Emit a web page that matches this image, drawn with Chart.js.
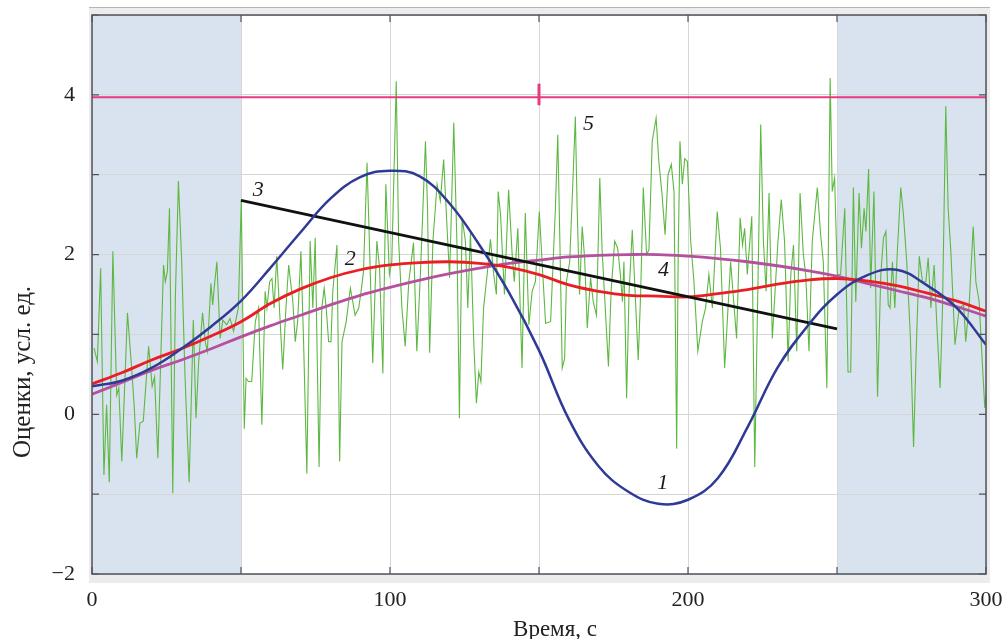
<!DOCTYPE html>
<html>
<head>
<meta charset="utf-8">
<script src="https://cdn.jsdelivr.net/npm/chart.js@4"></script>
<style>
  body { margin: 0; background: #fff; }
  #wrap { width: 1003px; height: 639px; position: relative; }
</style>
</head>
<body>
<div id="wrap"><canvas id="chart"></canvas></div>
<script>
// shaded time intervals, c
const shadeRanges = [[0, 50], [250, 300]];

// smooth curves 1, 2, 4 sampled every 10 s
const curveT = [0, 10, 20, 30, 40, 50, 60, 70, 80, 90, 100, 110, 120, 130, 140, 150,
  160, 170, 180, 190, 200, 210, 220, 230, 240, 250, 260, 270, 280, 290, 300];
const curve1 = [0.35, 0.42, 0.58, 0.82, 1.10, 1.42, 1.84, 2.28, 2.70, 2.97, 3.05, 2.98, 2.64, 2.12, 1.52, 0.80,
  -0.06, -0.65, -0.97, -1.12, -1.07, -0.80, -0.16, 0.58, 1.10, 1.50, 1.74, 1.81, 1.62, 1.34, 0.87];
const curve2 = [0.38, 0.52, 0.68, 0.82, 0.98, 1.16, 1.39, 1.57, 1.71, 1.81, 1.87, 1.90, 1.91, 1.89, 1.84, 1.75,
  1.62, 1.54, 1.49, 1.48, 1.47, 1.51, 1.56, 1.63, 1.68, 1.70, 1.67, 1.61, 1.52, 1.42, 1.29];
const curve4 = [0.25, 0.40, 0.55, 0.68, 0.82, 0.97, 1.11, 1.24, 1.37, 1.49, 1.59, 1.68, 1.76, 1.83, 1.89, 1.93,
  1.97, 1.99, 2.00, 2.00, 1.98, 1.95, 1.91, 1.86, 1.80, 1.73, 1.64, 1.55, 1.46, 1.35, 1.23];

// straight line 3
const line3T = [50, 250];
const line3 = [2.68, 1.07];

// level 5 and its mark
const line5T = [0, 300];
const line5 = [3.97, 3.97];
const mark5T = [150, 150];
const mark5 = [3.87, 4.14];

// raw signal (green)
const greenT = [
  0.7, 1.8, 2.9, 4.0, 4.9, 5.8, 7.0, 8.3, 9.0, 10.0, 11.9, 13.3, 14.2, 15.0, 16.1, 17.2, 19.0, 20.2, 21.0, 22.1,
  24.0, 24.6, 25.3, 26.0, 27.1, 28.0, 29.0, 30.1, 31.2, 32.6, 34.0, 34.9, 35.8, 37.1, 38.0, 38.7, 39.9, 40.5, 41.0, 41.9,
  43.0, 43.9, 45.2, 46.3, 47.5, 49.1, 50.1, 51.1, 51.7, 52.5, 53.6, 54.8, 55.9, 56.4, 57.0, 58.1, 58.7, 59.6, 60.4, 61.1,
  62.0, 62.9, 64.0, 65.2, 66.0, 67.4, 68.2, 69.0, 70.1, 71.0, 72.1, 73.2, 74.1, 74.9, 76.2, 77.1, 77.9, 78.6, 79.4, 80.2,
  80.8, 82.2, 83.1, 83.9, 85.3, 86.7, 88.3, 89.5, 90.3, 91.1, 92.3, 93.4, 94.2, 95.0, 95.6, 96.5, 97.6, 98.6, 99.8, 100.6,
  102.1, 102.9, 104.0, 105.1, 106.3, 107.9, 109.0, 110.2, 111.9, 112.6, 113.3, 114.4, 115.8, 116.9, 118.0, 119.1, 120.0, 121.4, 122.5, 123.3,
  124.2, 125.3, 126.1, 127.0, 128.1, 129.0, 129.8, 130.5, 131.4, 132.6, 133.7, 134.8, 135.7, 136.3, 137.1, 138.4, 139.8, 141.0, 141.7, 142.9,
  144.3, 145.4, 146.6, 147.7, 148.8, 150.1, 152.2, 153.9, 155.5, 156.3, 157.0, 157.8, 158.6, 159.2, 160.3, 161.5, 162.2, 162.8, 163.6, 164.5,
  165.3, 166.2, 167.3, 168.2, 169.3, 170.4, 171.2, 173.3, 174.2, 175.4, 176.4, 177.3, 178.0, 178.5, 179.4, 180.2, 181.3, 182.4, 183.3, 184.1,
  185.0, 186.1, 186.9, 188.0, 189.3, 190.2, 191.3, 192.3, 193.3, 194.4, 195.3, 196.2, 196.7, 197.3, 198.1, 198.9, 199.8, 200.9, 202.0, 203.3,
  204.8, 205.9, 207.0, 208.2, 209.8, 210.9, 212.3, 214.3, 216.3, 217.5, 218.3, 219.0, 219.9, 221.4, 222.4, 224.4, 225.3, 226.2, 227.2, 228.3,
  229.4, 230.2, 231.3, 232.4, 233.6, 234.5, 235.4, 236.5, 237.6, 238.7, 239.5, 240.6, 241.7, 243.4, 244.5, 245.4, 246.6, 247.7, 248.4, 249.2,
  250.1, 251.2, 252.6, 253.7, 254.6, 255.5, 256.3, 257.4, 258.2, 259.1, 259.7, 260.6, 261.3, 262.4, 263.6, 264.7, 265.6, 266.4, 267.2, 267.8,
  268.6, 269.4, 270.3, 271.4, 272.3, 273.4, 274.6, 275.7, 276.5, 277.6, 278.7, 279.8, 280.6, 281.5, 282.6, 283.5, 284.6, 285.4, 286.5, 287.3,
  288.2, 289.6, 291.0, 292.5, 293.2, 294.4, 295.7, 296.6, 297.7, 298.8, 299.6, 300.0
];
const greenV = [
  0.83, 0.66, 1.83, -0.76, 0.12, -0.85, 2.04, 0.24, 0.33, -0.59, 1.27, 0.58, 0.08, -0.55, -0.11, -0.09, 0.85, 0.35, 0.47, -0.55,
  1.87, 1.66, 1.79, 2.58, -0.99, 1.50, 2.92, 1.91, 0.49, -0.85, 1.18, -0.05, 0.66, 1.27, 0.91, 0.79, 1.64, 1.37, 1.58, 1.91,
  0.95, 1.18, 1.12, 1.20, 1.04, 1.33, 2.69, -0.18, 0.45, 0.41, 0.41, 1.16, 1.33, 0.66, -0.13, 1.54, 1.33, 1.66, 1.70, 1.33,
  1.98, 1.33, 0.56, 1.41, 1.87, 1.41, 0.91, 1.16, 2.04, 0.91, -0.74, 2.17, 1.33, 2.21, -0.66, 1.33, 1.58, 1.33, 0.91, 0.91,
  1.54, 2.12, -0.59, 0.91, 1.16, 1.58, 1.24, 1.33, 1.54, 1.79, 3.15, 1.75, 0.64, 1.58, 2.17, 1.83, 0.51, 2.88, 1.75, 1.91,
  4.17, 2.17, 1.33, 0.85, 1.66, 2.15, 0.79, 1.75, 3.42, 2.58, 0.77, 2.17, 2.88, 2.67, 3.19, 2.37, 1.71, 3.65, 2.08, -0.05,
  2.46, 2.17, 1.33, 2.29, 0.91, 0.14, 0.53, 0.41, 1.33, 1.75, 2.19, 1.75, 1.50, 2.79, 2.50, 1.50, 2.81, 2.00, 1.66, 2.33,
  0.58, 2.52, 1.12, 1.54, 1.66, 2.54, 1.14, 1.16, 2.58, 3.50, 2.17, 0.58, 0.70, 1.66, 1.91, 3.04, 3.73, 2.58, 1.50, 2.35,
  1.96, 1.08, 1.71, 1.41, 1.24, 2.96, 2.04, 0.60, 1.54, 2.17, 2.08, 1.75, 1.41, 1.91, 0.20, 1.50, 2.31, 1.41, 0.68, 1.50,
  2.84, 2.00, 2.06, 3.42, 3.71, 3.17, 2.75, 2.25, 3.00, 3.13, 2.79, -0.43, 1.96, 3.42, 2.88, 3.20, 3.17, 2.17, 1.66, 0.79,
  1.16, 1.33, 1.75, 1.33, 2.54, 2.08, 0.58, 1.91, 0.95, 2.46, 2.12, 2.33, 1.75, 2.48, -0.66, 3.63, 2.17, 1.54, 2.77, 0.95,
  1.66, 2.17, 2.69, 2.17, 0.66, 1.75, 2.12, 0.79, 2.77, 2.00, 1.75, 0.79, 2.17, 2.84, 2.25, 1.91, 0.33, 4.21, 2.79, 2.96,
  1.75, 1.75, 2.58, 0.53, 0.53, 2.84, 1.41, 2.77, 2.08, 2.58, 2.29, 3.07, 1.58, 2.79, 0.22, 1.75, 2.21, 2.29, 1.37, 1.33,
  1.91, 1.33, 2.08, 2.84, 2.50, 1.91, 0.99, -0.41, 0.70, 1.98, 1.66, 1.66, 1.96, 1.33, 1.87, 1.12, 0.33, 1.33, 3.86, 2.58,
  2.04, 0.87, 1.33, 1.37, 0.91, 1.41, 2.35, 1.66, 1.41, 0.62, 0.08, 0.24
];

// curve numbers and where they sit (data units)
const curveNames = ['1', '2', '3', '4', '5'];
const nameX = [191.5, 86.7, 55.8, 191.8, 166.6];
const nameY = [-0.86, 1.94, 2.81, 1.81, 3.63];

const serif = '"Liberation Serif", "Times New Roman", serif';

function pts(xs, ys) {
  return xs.map((x, i) => ({ x: x, y: ys[i] }));
}

const framePlugin = {
  id: 'frame',
  beforeDraw(chart) {
    const ctx = chart.ctx;
    const a = chart.chartArea;
    const xs = chart.scales.x;
    ctx.save();
    // light panel round the plot
    ctx.fillStyle = '#ececec';
    ctx.fillRect(a.left - 3, a.top - 8, a.right - a.left + 7, a.bottom - a.top + 17);
    ctx.fillStyle = '#b4b4b4';
    ctx.fillRect(a.left - 3, a.top - 8, a.right - a.left + 7, 1);
    ctx.fillStyle = '#ffffff';
    ctx.fillRect(a.left, a.top, a.right - a.left, a.bottom - a.top);
    ctx.fillStyle = '#d9e2ef';
    shadeRanges.forEach(r => {
      const x0 = xs.getPixelForValue(r[0]);
      const x1 = xs.getPixelForValue(r[1]);
      ctx.fillRect(x0, a.top, x1 - x0, a.bottom - a.top);
    });
    ctx.restore();
  },
  afterDraw(chart) {
    const ctx = chart.ctx;
    const a = chart.chartArea;
    const xs = chart.scales.x;
    const ys = chart.scales.y;
    ctx.save();
    // frame
    ctx.strokeStyle = '#4f545c';
    ctx.lineWidth = 1.5;
    ctx.strokeRect(a.left, a.top, a.right - a.left, a.bottom - a.top);
    // inward ticks
    ctx.lineWidth = 1.2;
    ctx.beginPath();
    xs.ticks.forEach(t => {
      const px = xs.getPixelForValue(t.value);
      ctx.moveTo(px, a.bottom); ctx.lineTo(px, a.bottom - 7);
      ctx.moveTo(px, a.top); ctx.lineTo(px, a.top + 7);
    });
    ys.ticks.forEach(t => {
      const py = ys.getPixelForValue(t.value);
      ctx.moveTo(a.left, py); ctx.lineTo(a.left + 7, py);
      ctx.moveTo(a.right, py); ctx.lineTo(a.right - 7, py);
    });
    ctx.stroke();

    // curve numbers
    ctx.fillStyle = '#1a1a1a';
    ctx.font = 'italic 22px ' + serif;
    ctx.textAlign = 'center';
    ctx.textBaseline = 'middle';
    curveNames.forEach((n, i) => {
      ctx.fillText(n, xs.getPixelForValue(nameX[i]), ys.getPixelForValue(nameY[i]));
    });

    // axis titles
    ctx.fillStyle = '#222';
    ctx.textBaseline = 'alphabetic';
    ctx.font = '23px ' + serif;
    ctx.fillText('Время, с', 555, 636);
    ctx.font = '25px ' + serif;
    ctx.translate(30, 372);
    ctx.rotate(-Math.PI / 2);
    ctx.fillText('Оценки, усл. ед.', 0, 0);
    ctx.restore();
  }
};

const ctx = document.getElementById('chart').getContext('2d');
new Chart(ctx, {
  type: 'line',
  data: {
    datasets: [
      { label: '1', data: pts(curveT, curve1), borderColor: '#2f3a96', borderWidth: 2.5, tension: 0.4, order: 1 },
      { label: '3', data: pts(line3T, line3), borderColor: '#111111', borderWidth: 2.8, order: 2 },
      { label: '2', data: pts(curveT, curve2), borderColor: '#ec1c24', borderWidth: 2.8, tension: 0.4, order: 3 },
      { label: '4', data: pts(curveT, curve4), borderColor: '#b5509f', borderWidth: 2.8, tension: 0.4, order: 4 },
      { label: '5', data: pts(line5T, line5), borderColor: '#e83a80', borderWidth: 2, order: 5 },
      { label: '5m', data: pts(mark5T, mark5), borderColor: '#e83a80', borderWidth: 3, order: 5 },
      { label: 'signal', data: pts(greenT, greenV), borderColor: '#5db842', borderWidth: 1.1, order: 10 }
    ]
  },
  options: {
    responsive: true,
    maintainAspectRatio: false,
    animation: false,
    devicePixelRatio: 1,
    layout: { padding: { top: 15, right: 17, left: 0, bottom: 0 } },
    elements: { point: { radius: 0 }, line: { tension: 0, fill: false } },
    plugins: { legend: { display: false }, tooltip: { enabled: false } },
    scales: {
      x: {
        type: 'linear', min: 0, max: 300,
        afterFit(s) { s.height = 65; s.paddingLeft = 0; s.paddingRight = 0; },
        grid: { color: '#d6d6d6', lineWidth: 1, drawTicks: false },
        border: { display: false },
        ticks: {
          stepSize: 50, padding: 13, color: '#222', maxRotation: 0, autoSkip: false,
          font: { family: serif, size: 22 },
          callback: v => (v % 100 === 0 ? String(v) : '')
        }
      },
      y: {
        type: 'linear', min: -2, max: 5,
        afterFit(s) { s.width = 92; s.paddingTop = 0; s.paddingBottom = 0; },
        grid: { color: '#d6d6d6', lineWidth: 1, drawTicks: false },
        border: { display: false },
        ticks: {
          stepSize: 1, padding: 17, color: '#222', autoSkip: false,
          font: { family: serif, size: 22 },
          callback: v => (v % 2 === 0 ? (v < 0 ? '\u2212' + Math.abs(v) : String(v)) : '')
        }
      }
    }
  },
  plugins: [framePlugin]
});
</script>
</body>
</html>
